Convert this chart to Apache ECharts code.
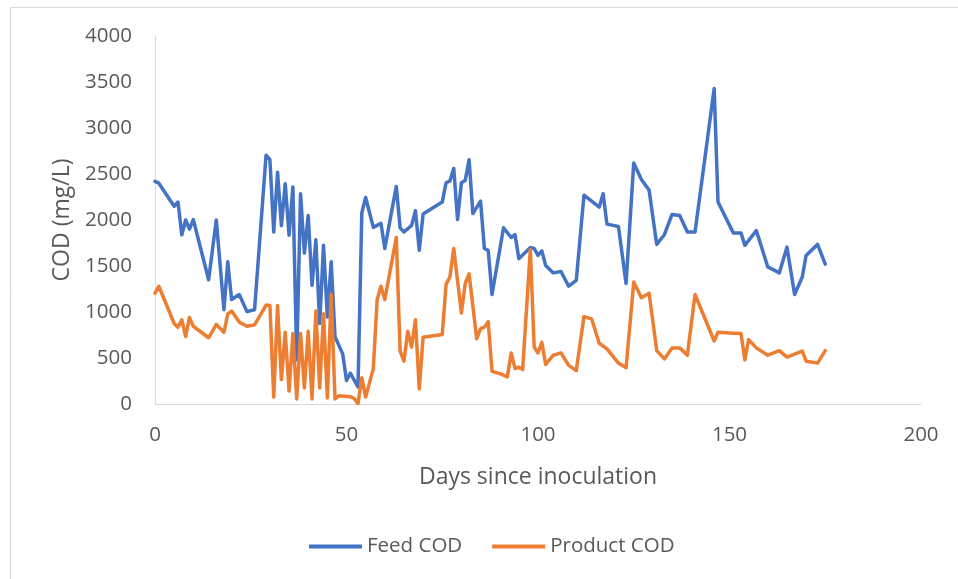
<!DOCTYPE html>
<html>
<head>
<meta charset="utf-8">
<style>
  html, body { margin: 0; padding: 0; background: #ffffff; }
  #chart { width: 958px; height: 579px; }
</style>
<script src="https://cdn.jsdelivr.net/npm/echarts@6/dist/echarts.min.js"></script>
</head>
<body>
<div id="chart"></div>
<script>
// Sampling days and COD readings (mg/L)
const feedDays = [0, 1, 5, 6, 7, 8, 9, 10, 14, 16, 18, 19, 20, 22, 24, 26, 29, 30, 31, 32, 33, 34, 35, 36, 37, 38, 39, 40, 41, 42, 43, 44, 45, 46, 47, 49, 50, 51, 53, 54, 55, 57, 59, 60, 63, 64, 65, 67, 68, 69, 70, 75, 76, 77, 78, 79, 80, 81, 82, 83, 85, 86, 87, 88, 91, 93, 94, 95, 98, 99, 100, 101, 102, 104, 106, 108, 110, 112, 116, 117, 118, 121, 123, 125, 127, 129, 131, 133, 135, 137, 139, 141, 146, 147, 151, 153, 154, 157, 160, 163, 165, 167, 169, 170, 173, 175];
const feedCOD = [2420, 2400, 2150, 2195, 1840, 2000, 1900, 2005, 1350, 2000, 1025, 1545, 1135, 1190, 1005, 1025, 2705, 2655, 1870, 2520, 1940, 2395, 1835, 2360, 480, 2285, 1640, 2050, 1290, 1785, 875, 1725, 945, 1545, 730, 545, 255, 335, 185, 2080, 2245, 1920, 1965, 1690, 2365, 1915, 1870, 1940, 2100, 1670, 2065, 2195, 2405, 2425, 2560, 2005, 2405, 2430, 2655, 2070, 2205, 1690, 1670, 1190, 1915, 1810, 1840, 1580, 1700, 1690, 1615, 1665, 1505, 1425, 1440, 1280, 1345, 2270, 2140, 2285, 1955, 1930, 1310, 2620, 2440, 2325, 1735, 1840, 2060, 2050, 1870, 1870, 3430, 2195, 1860, 1860, 1725, 1885, 1490, 1425, 1705, 1190, 1380, 1615, 1735, 1520];

const productDays = [0, 1, 5, 6, 7, 8, 9, 10, 14, 16, 18, 19, 20, 22, 24, 26, 29, 30, 31, 32, 33, 34, 35, 36, 37, 38, 39, 40, 41, 42, 43, 44, 45, 46, 47, 48, 51, 52, 53, 54, 55, 57, 58, 59, 60, 63, 64, 65, 66, 67, 68, 69, 70, 75, 76, 77, 78, 80, 81, 82, 84, 85, 86, 87, 88, 90, 92, 93, 94, 95, 96, 98, 99, 100, 101, 102, 104, 106, 108, 110, 112, 114, 116, 118, 121, 123, 125, 127, 129, 131, 133, 135, 137, 139, 141, 146, 147, 151, 153, 154, 155, 157, 160, 163, 165, 169, 170, 173, 175];
const productCOD = [1205, 1280, 875, 835, 915, 735, 940, 845, 720, 865, 780, 980, 1010, 890, 845, 860, 1075, 1070, 75, 1070, 265, 780, 140, 765, 55, 765, 175, 790, 55, 1010, 175, 980, 65, 1190, 55, 90, 80, 60, 5, 285, 75, 385, 1135, 1280, 1135, 1810, 575, 465, 790, 620, 915, 165, 725, 755, 1300, 1380, 1690, 990, 1310, 1415, 710, 820, 835, 895, 355, 330, 295, 555, 385, 400, 375, 1680, 620, 555, 670, 430, 530, 555, 420, 365, 950, 925, 660, 600, 445, 395, 1325, 1155, 1205, 580, 490, 610, 610, 530, 1190, 685, 780, 770, 765, 480, 700, 610, 530, 580, 510, 575, 465, 445, 580];

const seriesNames = ['Feed COD', 'Product COD'];
const xTitle = 'Days since inoculation';
const yTitle = 'COD (mg/L)';

const pairs = (xs, ys) => xs.map((x, i) => [x, ys[i]]);

const FONT = '"Open Sans", "Noto Sans", sans-serif';
const TEXT = '#595959';
const AXIS = '#d9d9d9';

const chart = echarts.init(document.getElementById('chart'), null, { renderer: 'canvas' });
chart.setOption({
  animation: false,
  backgroundColor: '#ffffff',
  graphic: [{
    type: 'rect',
    shape: { x: 10.5, y: 7.5, width: 1000, height: 700 },
    style: { fill: 'none', stroke: AXIS, lineWidth: 1 },
    silent: true,
    z: -1
  }],
  grid: { left: 155, right: 37, top: 36, bottom: 175, containLabel: false },
  legend: {
    data: seriesNames,
    bottom: 17,
    left: 304,
    icon: 'rect',
    itemWidth: 53,
    itemHeight: 4,
    itemGap: 30,
    textStyle: { color: TEXT, fontSize: 20.5, fontFamily: FONT }
  },
  xAxis: {
    type: 'value',
    min: 0,
    max: 200,
    interval: 50,
    name: xTitle,
    nameLocation: 'middle',
    nameGap: 62,
    nameTextStyle: { color: TEXT, fontSize: 23, fontFamily: FONT },
    axisLine: { show: true, lineStyle: { color: AXIS, width: 1 } },
    axisTick: { show: false },
    splitLine: { show: false },
    axisLabel: { color: TEXT, fontSize: 20.5, fontFamily: FONT, margin: 21 }
  },
  yAxis: {
    type: 'value',
    min: 0,
    max: 4000,
    interval: 500,
    name: yTitle,
    nameLocation: 'middle',
    nameGap: 81,
    nameRotate: 90,
    nameTextStyle: { color: TEXT, fontSize: 23, fontFamily: FONT },
    axisLine: { show: true, lineStyle: { color: AXIS, width: 1 } },
    axisTick: { show: false },
    splitLine: { show: false },
    axisLabel: { color: TEXT, fontSize: 20.5, fontFamily: FONT, margin: 23, formatter: (v) => String(v) }
  },
  series: [
    {
      name: seriesNames[0],
      type: 'line',
      data: pairs(feedDays, feedCOD),
      showSymbol: false,
      symbol: 'none',
      lineStyle: { color: '#4472C4', width: 3.5, join: 'round', cap: 'round' },
      itemStyle: { color: '#4472C4' },
      z: 2
    },
    {
      name: seriesNames[1],
      type: 'line',
      data: pairs(productDays, productCOD),
      showSymbol: false,
      symbol: 'none',
      lineStyle: { color: '#ED7D31', width: 3.5, join: 'round', cap: 'round' },
      itemStyle: { color: '#ED7D31' },
      z: 3
    }
  ]
});
</script>
</body>
</html>
